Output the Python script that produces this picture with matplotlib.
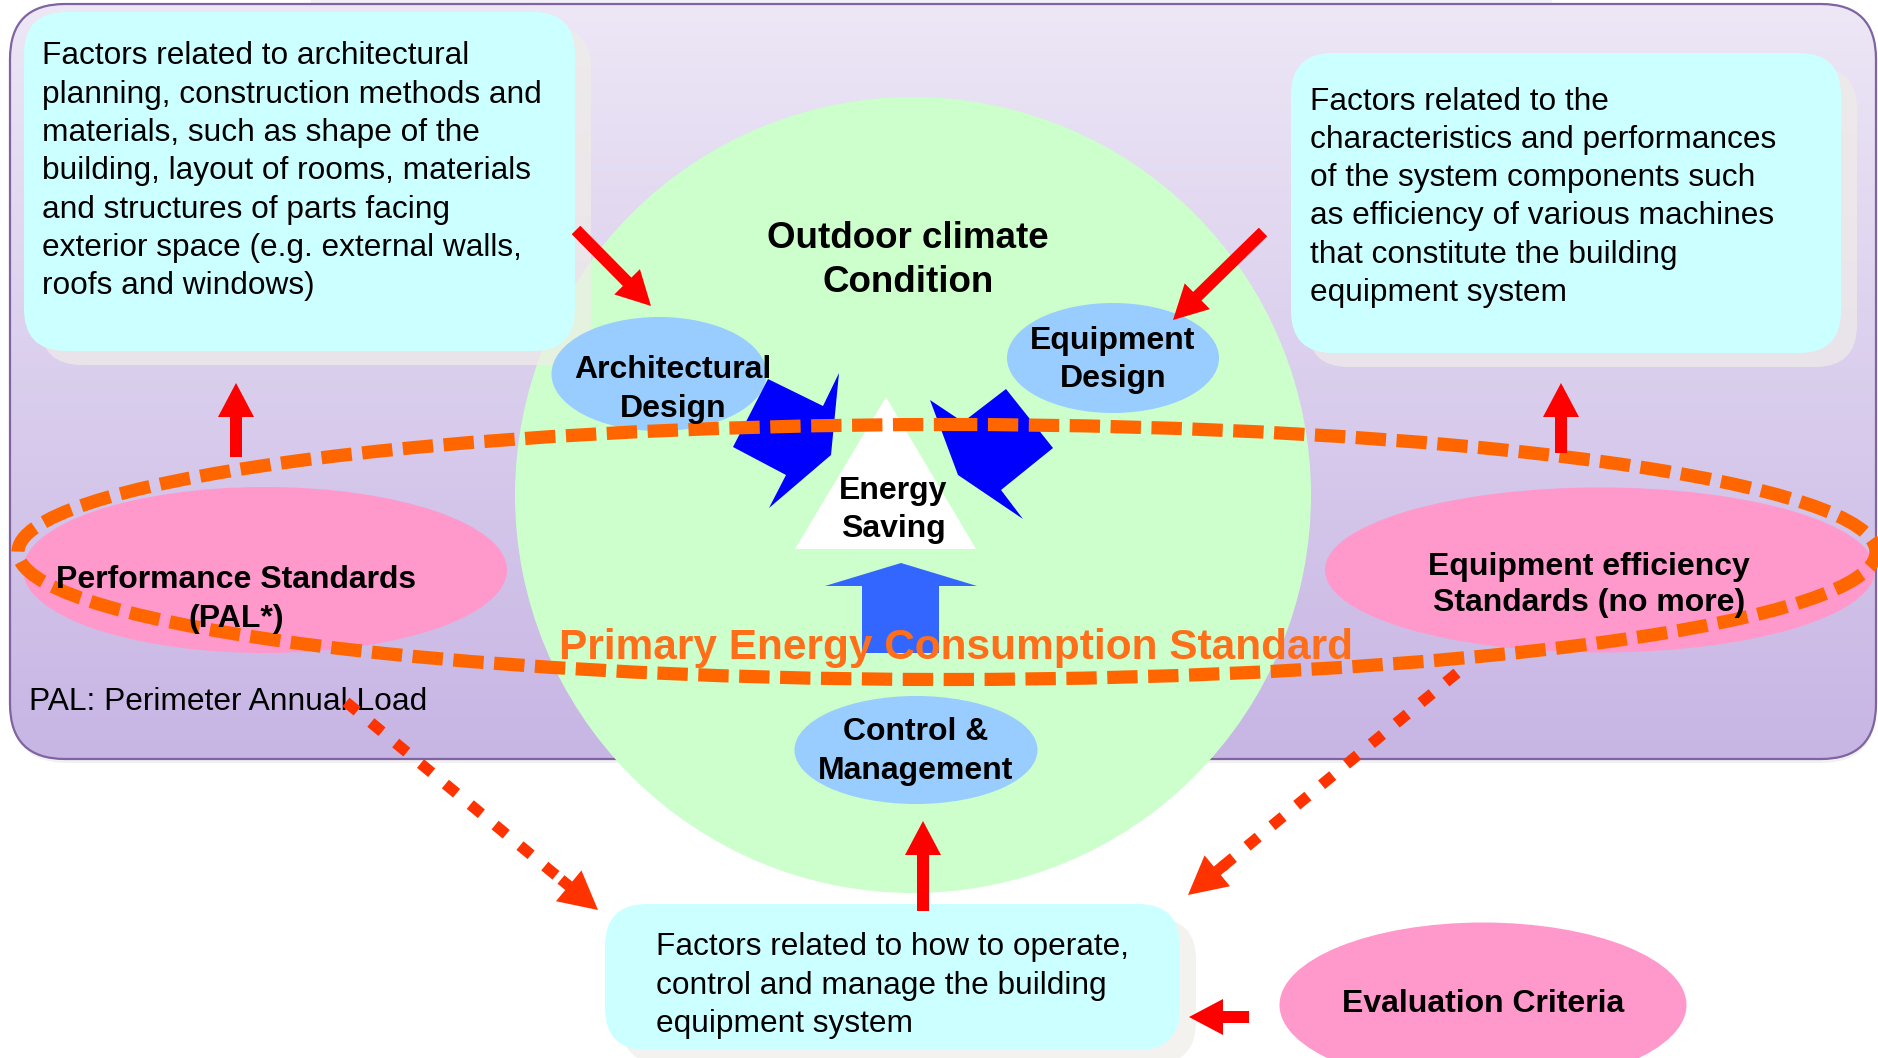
import numpy as np
import matplotlib
matplotlib.use('Agg')
import matplotlib.pyplot as plt
import matplotlib.patches as mpatches
from matplotlib.patches import FancyBboxPatch, Ellipse, Circle, Polygon, FancyArrow

plt.rcParams['font.family'] = ['Liberation Sans', 'DejaVu Sans']

##===========================================
# Texts of the diagram
##===========================================
arch_lines = ['Factors related to architectural',
              'planning, construction methods and',
              'materials, such as shape of the',
              'building, layout of rooms, materials',
              'and structures of parts facing',
              'exterior space (e.g. external walls,',
              'roofs and windows)']
equip_lines = ['Factors related to the',
               'characteristics and performances',
               'of the system components such',
               'as efficiency of various machines',
               'that constitute the building',
               'equipment system']
ctrl_lines = ['Factors related to how to operate,',
              'control and manage the building',
              'equipment system']
arch_label = ['Architectural', 'Design']
equip_label = ['Equipment', 'Design']
ctrl_label = ['Control &', 'Management']
perf_label = ['Performance Standards', '(PAL*)']
eff_label = ['Equipment efficiency', 'Standards (no more)']
eval_label = 'Evaluation Criteria'
centre_title = ['Outdoor climate', 'Condition']
saving_label = ['Energy', 'Saving']
standard_label = 'Primary Energy Consumption Standard'
pal_note = 'PAL: Perimeter Annual Load'

# colours
purple_edge = '#8064a2'
green_c = '#ccffcc'
cyan_c = '#ccffff'
blue_ell = '#99ccff'
pink_c = '#ff99cc'
orange_c = '#ff6600'
red_c = '#ff0000'
dot_c = '#ff3300'

W, H = 1878, 1058
fig = plt.figure(figsize=(W / 100, H / 100), dpi=100)
ax = fig.add_axes([0, 0, 1, 1])

#=======================================================
# background frame with gradient
#=======================================================
ax.add_patch(mpatches.Rectangle((311, 0), 1240, 5, color='#f3f1f7', zorder=0))

shadow = FancyBboxPatch((12, 8), 1864, 755, boxstyle='round,pad=0,rounding_size=55',
                        fc='#bbbbbb', ec='none', alpha=0.2, zorder=0.5)
ax.add_patch(shadow)
frame = FancyBboxPatch((10, 4), 1866, 755, boxstyle='round,pad=0,rounding_size=55',
                       fc='none', ec=purple_edge, lw=1.6, zorder=2)
ax.add_patch(frame)
top = np.array([237, 231, 246]) / 255.
bot = np.array([199, 181, 228]) / 255.
t = np.linspace(0, 1, 256)[:, None]
grad = (top[None, :] * (1 - t) + bot[None, :] * t)[:, None, :]
im = ax.imshow(grad, extent=[10, 1876, 759, 4], aspect='auto', origin='upper', zorder=1)
clipbox = FancyBboxPatch((10, 4), 1866, 755, boxstyle='round,pad=0,rounding_size=55',
                         fc='none', ec='none', transform=ax.transData)
im.set_clip_path(clipbox)

# green circle
ax.add_patch(Circle((913, 495), 398, fc=green_c, ec='none', zorder=3))

#=======================================================
# cyan text boxes
#=======================================================
def cyan_box(x, y, w, h):
    ax.add_patch(FancyBboxPatch((x + 16, y + 14), w, h, boxstyle='round,pad=0,rounding_size=42',
                                fc='#efede8', ec='none', alpha=0.7, zorder=4))
    ax.add_patch(FancyBboxPatch((x, y), w, h, boxstyle='round,pad=0,rounding_size=42',
                                fc=cyan_c, ec='none', zorder=5))

def text_lines(lines, x, y0, step, size):
    for i, s in enumerate(lines):
        ax.text(x, y0 + i * step, s, fontsize=size, ha='left', va='center_baseline', zorder=12)

cyan_box(24, 12, 551, 339)
cyan_box(1291, 53, 550, 300)
cyan_box(605, 904, 575, 146)
text_lines(arch_lines, 42, 53, 38.3, 22.8)
text_lines(equip_lines, 1310, 98, 38.3, 22.8)
text_lines(ctrl_lines, 656, 944, 38.3, 22.8)

#=======================================================
# ellipses
#=======================================================
ax.add_patch(Ellipse((659, 374), 215, 114, fc=blue_ell, ec='none', zorder=6))
ax.add_patch(Ellipse((1113, 358), 212, 110, fc=blue_ell, ec='none', zorder=6))
ax.add_patch(Ellipse((916, 750), 243, 108, fc=blue_ell, ec='none', zorder=6))

ax.add_patch(Ellipse((265, 570), 484, 166, fc=pink_c, ec='none', zorder=6))
ax.add_patch(Ellipse((1600, 570), 550, 165, fc=pink_c, ec='none', zorder=6))
ax.add_patch(Ellipse((1483, 1005), 407, 165, fc=pink_c, ec='none', zorder=6))

# energy saving triangle
ax.add_patch(Polygon([(886, 397), (795, 549), (976, 549)], closed=True, fc='white', ec='none', zorder=7))

# blue block arrows
ax.add_patch(Polygon([(768, 379), (823, 406), (839, 373), (831, 455), (769, 508), (786, 475), (733, 447)],
                     closed=True, fc='#0000ff', ec='none', zorder=7))
ax.add_patch(Polygon([(1006, 389), (1053, 448), (1001, 490), (1023, 519), (958, 475), (930, 400), (963, 422)],
                     closed=True, fc='#0000ff', ec='none', zorder=7))
ax.add_patch(Polygon([(901, 563), (977, 586), (939, 586), (939, 653), (862, 653), (862, 586), (825, 586)],
                     closed=True, fc='#3366ff', ec='none', zorder=7))

#=======================================================
# labels
#=======================================================
bold = dict(fontweight='bold', ha='center', va='center_baseline', zorder=12)

def two_lines(lines, x, y0, step, size=23):
    for i, s in enumerate(lines):
        ax.text(x, y0 + i * step, s, fontsize=size, **bold)

two_lines(arch_label, 673, 366, 39)
two_lines(equip_label, 1113, 337, 38)
two_lines(ctrl_label, 916, 729, 39)
two_lines(centre_title, 908, 234, 44, size=26.5)
two_lines(saving_label, 893, 488, 38)
two_lines(perf_label, 236, 577, 39)
two_lines(eff_label, 1589, 563, 37)
ax.text(1483, 1001, eval_label, fontsize=23, **bold)
ax.text(956, 644, standard_label, fontsize=30.5, color='#ff6f1a', **bold)
ax.text(29, 698, pal_note, fontsize=22.9, ha='left', va='center_baseline', zorder=12)

# dashed orange ellipse
ring = Ellipse((947, 552), 1858, 255, fill=False, ec=orange_c, lw=9.5, zorder=10)
ring.set_linestyle((0, (2.3, 0.8)))
ring.set_capstyle('butt')
ax.add_patch(ring)

#=======================================================
# red arrows
#=======================================================
def red_arrow(x0, y0, x1, y1, w=12, hw=36, hl=34, c=red_c):
    ax.add_patch(FancyArrow(x0, y0, x1 - x0, y1 - y0, width=w, head_width=hw, head_length=hl,
                            length_includes_head=True, fc=c, ec='none', zorder=13))

red_arrow(576, 230, 651, 306)
red_arrow(1263, 232, 1173, 320)
red_arrow(236, 457, 236, 383)
red_arrow(1561, 453, 1561, 383)
red_arrow(923, 911, 923, 821)
red_arrow(1249, 1017, 1189, 1017)

def dotted_arrow(x0, y0, x1, y1):
    u = np.array([x1 - x0, y1 - y0], dtype=float)
    L = np.hypot(*u)
    u = u / L
    xe, ye = x1 - 40 * u[0], y1 - 40 * u[1]
    ax.plot([x0, xe], [y0, ye], color=dot_c, lw=8, linestyle=(0, (1.3, 1.6)),
            dash_capstyle='butt', zorder=13)
    red_arrow(x1 - 48 * u[0], y1 - 48 * u[1], x1, y1, w=11, hw=40, hl=38, c=dot_c)

dotted_arrow(346, 702, 598, 910)
dotted_arrow(1457, 673, 1188, 895)

ax.set_xlim(0, W)
ax.set_ylim(H, 0)
ax.axis('off')
plt.savefig('out.png', dpi=100)
